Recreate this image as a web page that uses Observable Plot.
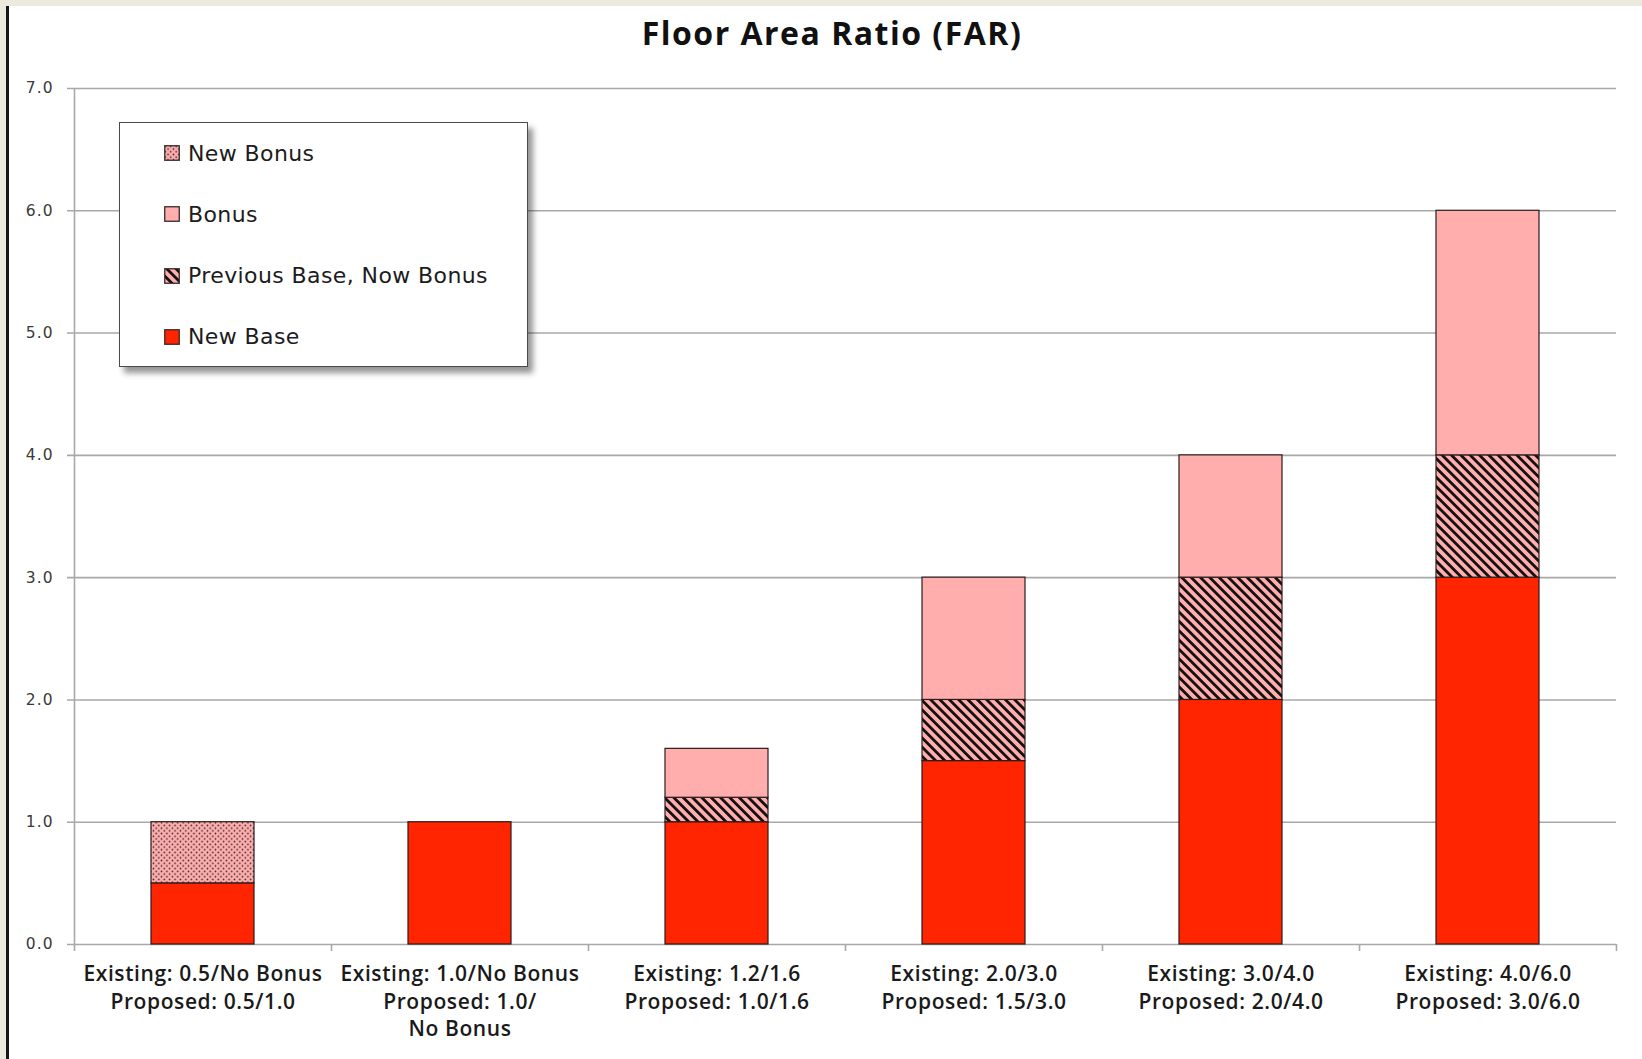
<!DOCTYPE html>
<html>
<head>
<meta charset="utf-8">
<script src="https://cdn.jsdelivr.net/npm/d3@7"></script>
<script src="https://cdn.jsdelivr.net/npm/@observablehq/plot@0.6"></script>
<style>
  html, body { margin: 0; padding: 0; }
  body { width: 1642px; height: 1059px; background: #ECE9DF; position: relative; overflow: hidden; }
  #sheet { position: absolute; left: 6px; top: 6px; width: 1636px; height: 1053px; background: #fff;
           border-left: 3px solid #161616; box-sizing: border-box; }
  #title { position: absolute; left: 532px; top: 17px; width: 600px; text-align: center;
           font: 700 32px/1 "Open Sans", sans-serif; color: #111; letter-spacing: 1.5px; }
  #chart { position: absolute; left: 9px; top: 60px; }
  #legend { position: absolute; left: 119px; top: 122px; width: 409px; height: 245px; box-sizing: border-box;
            background: #fff; border: 1.5px solid #4a4a4a; box-shadow: 5px 6px 6px rgba(0,0,0,0.42); }
  .row { position: absolute; left: 44px; height: 24px; display: flex; align-items: center;
         font: 400 22px "DejaVu Sans", sans-serif; letter-spacing: 0.4px; color: #1c1c1c; white-space: nowrap; }
  .row svg { margin-right: 8px; display: block; }
</style>
</head>
<body>
<div id="sheet"></div>
<div id="title">Floor Area Ratio (FAR)</div>
<div id="chart"></div>
<div id="legend"></div>
<script>
// Categories: existing vs. proposed base/bonus FAR for each zone
const categories = [
  "Existing: 0.5/No Bonus\nProposed: 0.5/1.0",
  "Existing: 1.0/No Bonus\nProposed: 1.0/\nNo Bonus",
  "Existing: 1.2/1.6\nProposed: 1.0/1.6",
  "Existing: 2.0/3.0\nProposed: 1.5/3.0",
  "Existing: 3.0/4.0\nProposed: 2.0/4.0",
  "Existing: 4.0/6.0\nProposed: 3.0/6.0"
];

// Stacked series, bottom to top
const seriesNames = ["New Base", "Previous Base, Now Bonus", "Bonus", "New Bonus"];
const newBase = [0.5, 1.0, 1.0, 1.5, 2.0, 3.0];
const previousBaseNowBonus = [0, 0, 0.2, 0.5, 1.0, 1.0];
const bonus = [0, 0, 0.4, 1.0, 1.0, 2.0];
const newBonus = [0.5, 0, 0, 0, 0, 0];

// Y axis ticks
const yTicks = [0, 1, 2, 3, 4, 5, 6, 7];

// Fill for each series (patterns defined below)
const seriesFills = ["#FF2500", "url(#hatch)", "#FFADAD", "url(#dots)"];
const legendOrder = ["New Bonus", "Bonus", "Previous Base, Now Bonus", "New Base"];

const seriesValues = [newBase, previousBaseNowBonus, bonus, newBonus];
const rows = [];
categories.forEach((category, i) => {
  seriesNames.forEach((series, k) => {
    const value = seriesValues[k][i];
    if (value > 0) rows.push({category, series, value});
  });
});

const W = 1633, H = 999, ml = 65, mr = 26, mt = 28, mb = 115;
const step = (W - ml - mr) / categories.length;
const grey = "#A8A8A8";
const outline = "#2b1c1c";

const chart = Plot.plot({
  width: W,
  height: H,
  marginLeft: ml,
  marginRight: mr,
  marginTop: mt,
  marginBottom: mb,
  style: {fontFamily: "DejaVu Sans, sans-serif", background: "#fff", overflow: "visible"},
  x: {domain: categories, paddingInner: 0.6, paddingOuter: 0.3, axis: null},
  y: {domain: [0, 7], axis: null},
  color: {domain: seriesNames, range: seriesFills},
  marks: [
    // horizontal gridlines, extended left to form the y tick marks
    Plot.ruleY(yTicks, {stroke: grey, strokeWidth: 1.6, insetLeft: -7}),
    Plot.axisY({ticks: yTicks, tickFormat: d3.format(".1f"), tickSize: 0, tickPadding: 21,
                fontSize: 15.5, color: "#3a3a3a", label: null}),
    Plot.barY(rows, Plot.stackY({
      x: "category", y: "value", z: "series", fill: "series", order: seriesNames,
      stroke: outline, strokeWidth: 1.2
    })),
    // y axis line
    Plot.ruleX([categories[0]], {x: d => d, dx: -step / 2, y1: 0, y2: 7, stroke: grey, strokeWidth: 1.6}),
    // category boundary ticks below the x axis
    Plot.ruleX(categories, {x: d => d, dx: -step / 2, y1: 0, y2: 0, insetBottom: -7, stroke: grey, strokeWidth: 1.6}),
    Plot.ruleX([categories[categories.length - 1]], {x: d => d, dx: step / 2, y1: 0, y2: 0, insetBottom: -7, stroke: grey, strokeWidth: 1.6}),
    // category labels
    Plot.text(categories, {x: d => d, y: 0, dy: 17, lineAnchor: "top", lineHeight: 1.31,
                           fontSize: 21, fontFamily: "Open Sans", fontWeight: 600, fill: "#1a1a1a"})
  ]
});

// Fill patterns for the hatched and dotted series
const defs = d3.select(chart).insert("defs", ":first-child");
const hatch = defs.append("pattern").attr("id", "hatch").attr("patternUnits", "userSpaceOnUse")
  .attr("width", 6.6).attr("height", 6.6).attr("patternTransform", "rotate(-45)");
hatch.append("rect").attr("width", 6.6).attr("height", 6.6).attr("fill", "#FFADAD");
hatch.append("rect").attr("width", 2.8).attr("height", 6.6).attr("fill", "#111");
const dots = defs.append("pattern").attr("id", "dots").attr("patternUnits", "userSpaceOnUse")
  .attr("width", 5.4).attr("height", 5.4);
dots.append("rect").attr("width", 5.4).attr("height", 5.4).attr("fill", "#FFADAD");
dots.append("circle").attr("cx", 1.35).attr("cy", 1.35).attr("r", 0.8).attr("fill", "#222");
dots.append("circle").attr("cx", 4.05).attr("cy", 4.05).attr("r", 0.8).attr("fill", "#222");

d3.select(chart).selectAll('g[aria-label="y-axis tick label"] text').style("letter-spacing", "1px");
d3.select(chart).selectAll('g[aria-label="text"] text').style("letter-spacing", "0.6px");

document.getElementById("chart").appendChild(chart);

// Legend, top entry first
const legend = d3.select("#legend");
const fillOf = d3.scaleOrdinal(seriesNames, seriesFills);
legendOrder.forEach((name, i) => {
  const row = legend.append("div").attr("class", "row").style("top", (18 + i * 61.3) + "px");
  const sw = row.append("svg").attr("width", 16).attr("height", 16);
  sw.append("rect").attr("x", 0.75).attr("y", 0.75).attr("width", 14.5).attr("height", 14.5)
    .attr("fill", fillOf(name)).attr("stroke", "#3a2a2a").attr("stroke-width", 1.3);
  row.append("span").text(name);
});
</script>
</body>
</html>
